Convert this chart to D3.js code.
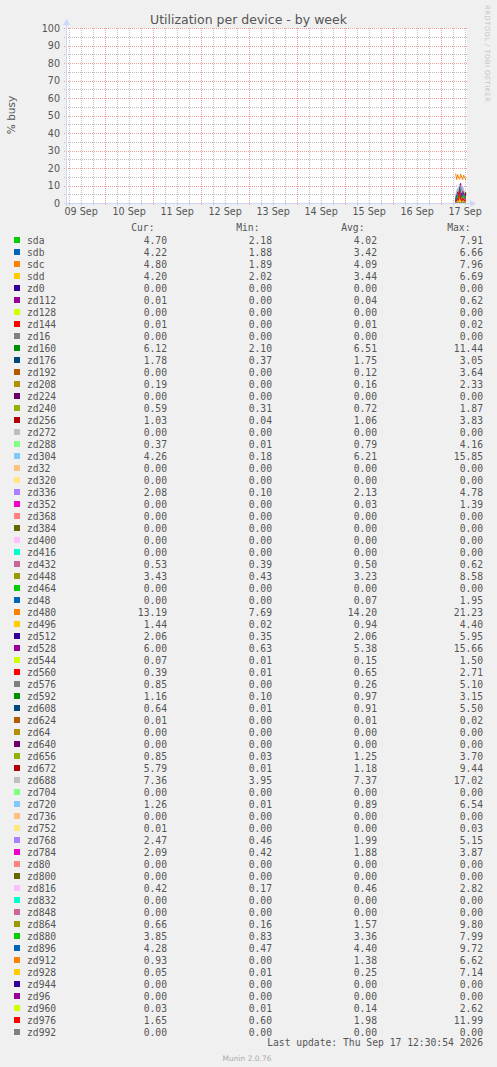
<!DOCTYPE html>
<html>
<head>
<meta charset="utf-8">
<script src="https://cdn.jsdelivr.net/npm/d3@7"></script>
<style>
  html, body { margin: 0; padding: 0; background: #f0f0f0; }
  svg { display: block; }
</style>
</head>
<body>
<svg id="graph"></svg>
<script>
// sample times (30 min steps), only the last few hours of the week have data
const times = ["2026-09-17 07:30", "2026-09-17 08:00", "2026-09-17 08:30", "2026-09-17 09:00",
  "2026-09-17 09:30", "2026-09-17 10:00", "2026-09-17 10:30", "2026-09-17 11:00",
  "2026-09-17 11:30", "2026-09-17 12:00", "2026-09-17 12:30"];

const names = ["sda", "sdb", "sdc", "sdd", "zd0", "zd112", "zd128", "zd144", "zd16", "zd160",
  "zd176", "zd192", "zd208", "zd224", "zd240", "zd256", "zd272", "zd288", "zd304", "zd32",
  "zd320", "zd336", "zd352", "zd368", "zd384", "zd400", "zd416", "zd432", "zd448", "zd464",
  "zd48", "zd480", "zd496", "zd512", "zd528", "zd544", "zd560", "zd576", "zd592", "zd608",
  "zd624", "zd64", "zd640", "zd656", "zd672", "zd688", "zd704", "zd720", "zd736", "zd752",
  "zd768", "zd784", "zd80", "zd800", "zd816", "zd832", "zd848", "zd864", "zd880", "zd896",
  "zd912", "zd928", "zd944", "zd96", "zd960", "zd976", "zd992"];

const palette = ["#00CC00", "#0066B3", "#FF8000", "#FFCC00", "#330099", "#990099", "#CCFF00",
  "#FF0000", "#808080", "#008F00", "#00487D", "#B35A00", "#B38F00", "#6B006B", "#8FB300",
  "#B30000", "#BEBEBE", "#80FF80", "#80C9FF", "#FFC080", "#FFE680", "#AA80FF", "#EE00CC",
  "#FF8080", "#666600", "#FFBFFF", "#00FFCC", "#CC6699", "#999900"];

const curVals = [4.70, 4.22, 4.80, 4.20, 0.00, 0.01, 0.00, 0.01, 0.00, 6.12,
  1.78, 0.00, 0.19, 0.00, 0.59, 1.03, 0.00, 0.37, 4.26, 0.00,
  0.00, 2.08, 0.00, 0.00, 0.00, 0.00, 0.00, 0.53, 3.43, 0.00,
  0.00, 13.19, 1.44, 2.06, 6.00, 0.07, 0.39, 0.85, 1.16, 0.64,
  0.01, 0.00, 0.00, 0.85, 5.79, 7.36, 0.00, 1.26, 0.00, 0.01,
  2.47, 2.09, 0.00, 0.00, 0.42, 0.00, 0.00, 0.66, 3.85, 4.28,
  0.93, 0.05, 0.00, 0.00, 0.03, 1.65, 0.00];
const minVals = [2.18, 1.88, 1.89, 2.02, 0.00, 0.00, 0.00, 0.00, 0.00, 2.10,
  0.37, 0.00, 0.00, 0.00, 0.31, 0.04, 0.00, 0.01, 0.18, 0.00,
  0.00, 0.10, 0.00, 0.00, 0.00, 0.00, 0.00, 0.39, 0.43, 0.00,
  0.00, 7.69, 0.02, 0.35, 0.63, 0.01, 0.01, 0.00, 0.10, 0.01,
  0.00, 0.00, 0.00, 0.03, 0.01, 3.95, 0.00, 0.01, 0.00, 0.00,
  0.46, 0.42, 0.00, 0.00, 0.17, 0.00, 0.00, 0.16, 0.83, 0.47,
  0.00, 0.01, 0.00, 0.00, 0.01, 0.60, 0.00];
const avgVals = [4.02, 3.42, 4.09, 3.44, 0.00, 0.04, 0.00, 0.01, 0.00, 6.51,
  1.75, 0.12, 0.16, 0.00, 0.72, 1.06, 0.00, 0.79, 6.21, 0.00,
  0.00, 2.13, 0.03, 0.00, 0.00, 0.00, 0.00, 0.50, 3.23, 0.00,
  0.07, 14.20, 0.94, 2.06, 5.38, 0.15, 0.65, 0.26, 0.97, 0.91,
  0.01, 0.00, 0.00, 1.25, 1.18, 7.37, 0.00, 0.89, 0.00, 0.00,
  1.99, 1.88, 0.00, 0.00, 0.46, 0.00, 0.00, 1.57, 3.36, 4.40,
  1.38, 0.25, 0.00, 0.00, 0.14, 1.98, 0.00];
const maxVals = [7.91, 6.66, 7.96, 6.69, 0.00, 0.62, 0.00, 0.02, 0.00, 11.44,
  3.05, 3.64, 2.33, 0.00, 1.87, 3.83, 0.00, 4.16, 15.85, 0.00,
  0.00, 4.78, 1.39, 0.00, 0.00, 0.00, 0.00, 0.62, 8.58, 0.00,
  1.95, 21.23, 4.40, 5.95, 15.66, 1.50, 2.71, 5.10, 3.15, 5.50,
  0.02, 0.00, 0.00, 3.70, 9.44, 17.02, 0.00, 6.54, 0.00, 0.03,
  5.15, 3.87, 0.00, 0.00, 2.82, 0.00, 0.00, 9.80, 7.99, 9.72,
  6.62, 7.14, 0.00, 0.00, 2.62, 11.99, 0.00];

// one row per device, same order as names
const values = [
  [2.18, 3.5, 4.1, 5.2, 7.91, 3.9, 3.2, 4.4, 3.6, 2.9, 4.70],
  [1.88, 2.9, 3.6, 3.1, 6.66, 3.3, 2.5, 3.9, 2.8, 3.0, 4.22],
  [1.89, 3.8, 4.5, 3.6, 7.96, 4.2, 3.1, 4.6, 3.5, 3.2, 4.80],
  [2.02, 3.1, 3.3, 2.9, 6.69, 3.4, 2.6, 3.7, 3.0, 2.8, 4.20],
  [0, 0, 0, 0, 0, 0, 0, 0, 0, 0, 0],
  [0, 0, 0.62, 0, 0, 0.02, 0, 0, 0, 0, 0.01],
  [0, 0, 0, 0, 0, 0, 0, 0, 0, 0, 0],
  [0, 0.01, 0.02, 0.01, 0, 0.01, 0.01, 0, 0.02, 0.01, 0.01],
  [0, 0, 0, 0, 0, 0, 0, 0, 0, 0, 0],
  [2.10, 5.8, 7.2, 6.4, 9.6, 6.9, 5.3, 7.8, 6.0, 5.5, 6.12],
  [0.37, 1.6, 2.1, 1.4, 3.05, 1.9, 1.2, 2.3, 1.5, 1.3, 1.78],
  [0, 0, 0, 0, 1.2, 0, 0, 0, 0, 0, 0],
  [0, 0.1, 0.2, 0, 2.33, 0.1, 0, 0.3, 0.1, 0, 0.19],
  [0, 0, 0, 0, 0, 0, 0, 0, 0, 0, 0],
  [0.31, 0.6, 0.8, 0.5, 1.87, 0.7, 0.4, 0.9, 0.6, 0.5, 0.59],
  [0.04, 0.9, 1.2, 0.7, 3.83, 1.1, 0.5, 1.4, 0.8, 0.6, 1.03],
  [0, 0, 0, 0, 0, 0, 0, 0, 0, 0, 0],
  [0.01, 0.5, 1.1, 0.4, 4.16, 0.8, 0.3, 1.2, 0.6, 0.4, 0.37],
  [0.18, 5.2, 8.4, 4.9, 10.8, 7.1, 3.6, 9.3, 5.8, 4.1, 4.26],
  [0, 0, 0, 0, 0, 0, 0, 0, 0, 0, 0],
  [0, 0, 0, 0, 0, 0, 0, 0, 0, 0, 0],
  [0.10, 1.9, 2.6, 1.7, 4.78, 2.3, 1.4, 2.9, 1.8, 1.6, 2.08],
  [0, 0, 0, 0, 0.4, 0, 0, 0, 0, 0, 0],
  [0, 0, 0, 0, 0, 0, 0, 0, 0, 0, 0],
  [0, 0, 0, 0, 0, 0, 0, 0, 0, 0, 0],
  [0, 0, 0, 0, 0, 0, 0, 0, 0, 0, 0],
  [0, 0, 0, 0, 0, 0, 0, 0, 0, 0, 0],
  [0.39, 0.48, 0.55, 0.44, 0.62, 0.51, 0.42, 0.58, 0.47, 0.45, 0.53],
  [0.43, 2.9, 3.8, 2.5, 8.58, 3.4, 2.1, 4.2, 2.8, 2.4, 3.43],
  [0, 0, 0, 0, 0, 0, 0, 0, 0, 0, 0],
  [0, 0, 0, 0, 0.8, 0, 0, 0, 0, 0, 0],
  [16.8, 13.4, 16.2, 14.1, 13.6, 16.5, 14.8, 13.3, 15.9, 14.6, 13.19],
  [0.02, 0.8, 1.1, 0.6, 2.9, 1.0, 0.5, 1.3, 0.9, 0.7, 1.44],
  [0.35, 1.8, 2.5, 1.6, 5.95, 2.2, 1.3, 2.7, 1.9, 1.5, 2.06],
  [0.63, 4.8, 6.2, 4.1, 8.5, 11.2, 3.7, 7.0, 5.1, 4.4, 6.00],
  [0.01, 0.1, 0.2, 0.05, 1.5, 0.1, 0.03, 0.2, 0.1, 0.05, 0.07],
  [0.01, 0.5, 0.9, 0.4, 2.71, 0.7, 0.3, 1.0, 0.6, 0.4, 0.39],
  [0, 0.1, 0.2, 0, 1.9, 0.1, 0, 0.3, 0.1, 0.05, 0.85],
  [0.10, 0.8, 1.2, 0.7, 3.15, 1.0, 0.6, 1.3, 0.9, 0.7, 1.16],
  [0.01, 0.7, 1.3, 0.5, 5.5, 0.9, 0.4, 1.5, 0.8, 0.5, 0.64],
  [0, 0.01, 0.02, 0.01, 0.01, 0, 0.01, 0.02, 0.01, 0, 0.01],
  [0, 0, 0, 0, 0, 0, 0, 0, 0, 0, 0],
  [0, 0, 0, 0, 0, 0, 0, 0, 0, 0, 0],
  [0.03, 1.1, 1.6, 0.9, 3.7, 1.4, 0.8, 1.8, 1.2, 0.9, 0.85],
  [0.01, 0.4, 0.9, 0.2, 3.1, 0.6, 0.1, 1.0, 0.4, 0.3, 5.79],
  [3.95, 6.8, 8.1, 6.2, 10.4, 7.6, 5.9, 8.9, 7.0, 6.4, 7.36],
  [0, 0, 0, 0, 0, 0, 0, 0, 0, 0, 0],
  [0.01, 0.7, 1.1, 0.5, 4.2, 0.9, 0.4, 1.2, 0.8, 0.6, 1.26],
  [0, 0, 0, 0, 0, 0, 0, 0, 0, 0, 0],
  [0, 0, 0, 0, 0.03, 0, 0, 0, 0, 0, 0.01],
  [0.46, 1.7, 2.3, 1.5, 5.15, 2.0, 1.3, 2.5, 1.8, 1.6, 2.47],
  [0.42, 1.7, 2.1, 1.5, 3.87, 1.9, 1.4, 2.3, 1.8, 1.6, 2.09],
  [0, 0, 0, 0, 0, 0, 0, 0, 0, 0, 0],
  [0, 0, 0, 0, 0, 0, 0, 0, 0, 0, 0],
  [0.17, 0.4, 0.5, 0.3, 2.82, 0.4, 0.3, 0.6, 0.4, 0.3, 0.42],
  [0, 0, 0, 0, 0, 0, 0, 0, 0, 0, 0],
  [0, 0, 0, 0, 0, 0, 0, 0, 0, 0, 0],
  [0.16, 1.2, 2.0, 0.9, 6.3, 1.5, 0.7, 2.2, 1.3, 0.9, 0.66],
  [0.83, 3.0, 3.7, 2.7, 7.99, 3.4, 2.4, 4.0, 3.1, 2.8, 3.85],
  [0.47, 4.1, 5.2, 3.8, 9.2, 4.6, 3.4, 5.5, 4.2, 3.7, 4.28],
  [0, 1.1, 1.9, 0.8, 6.62, 1.4, 0.6, 2.1, 1.2, 0.9, 0.93],
  [0.01, 0.1, 0.3, 0.05, 2.4, 0.2, 0.05, 0.3, 0.1, 0.05, 0.05],
  [0, 0, 0, 0, 0, 0, 0, 0, 0, 0, 0],
  [0, 0, 0, 0, 0, 0, 0, 0, 0, 0, 0],
  [0.01, 0.1, 0.2, 0.05, 1.6, 0.1, 0.03, 0.2, 0.1, 0.05, 0.03],
  [0.60, 1.8, 2.4, 1.5, 7.2, 2.0, 1.2, 2.6, 1.7, 1.4, 1.65],
  [0, 0, 0, 0, 0, 0, 0, 0, 0, 0, 0]
];

const yTicks = [0, 10, 20, 30, 40, 50, 60, 70, 80, 90, 100];
const title = "Utilization per device - by week";
const yLabel = "% busy";
const lastUpdate = "Last update: Thu Sep 17 12:30:54 2026";
const footer = "Munin 2.0.76";

function drawGraph() {
  const width = 497, height = 1067;
  const left = 67, right = 467, top = 28, bottom = 203;
  const fontColor = "#555";
  const gridColor = "#bdbdbd";
  const mgridColor = "#eb9c9c";
  const axisColor = "#CFD6F8";

  const svg = d3.select("#graph")
    .attr("width", width)
    .attr("height", height)
    .attr("viewBox", [0, 0, width, height])
    .style("font-family", "'DejaVu Sans', sans-serif");

  const parse = d3.timeParse("%Y-%m-%d %H:%M");
  const x_scale = d3.scaleTime()
    .domain([new Date(2026, 8, 9, 5, 10), new Date(2026, 8, 17, 13, 10)])
    .range([left, right]);
  const y_scale = d3.scaleLinear().domain([0, 100]).range([bottom, top]);

  // canvas
  svg.append("rect")
    .attr("x", left).attr("y", top)
    .attr("width", right - left).attr("height", bottom - top)
    .attr("fill", "#fff");

  const grid = svg.append("g").attr("shape-rendering", "crispEdges");

  // vertical grid: 6 hours minor, days major
  const hours = d3.timeHour.every(6).range(x_scale.domain()[0], x_scale.domain()[1]);
  hours.forEach(t => {
    const major = t.getHours() === 0;
    const xp = Math.round(x_scale(t)) + 0.5;
    grid.append("line")
      .attr("x1", xp).attr("x2", xp)
      .attr("y1", top).attr("y2", bottom + 3)
      .attr("stroke", major ? mgridColor : gridColor)
      .attr("stroke-dasharray", "1,1");
  });

  // horizontal grid: 5 minor, 10 major
  d3.range(5, 101, 5).forEach(v => {
    const yp = Math.round(y_scale(v)) + 0.5;
    grid.append("line")
      .attr("x1", left - 3).attr("x2", right)
      .attr("y1", yp).attr("y2", yp)
      .attr("stroke", v % 10 === 0 ? mgridColor : gridColor)
      .attr("stroke-dasharray", "1,1");
  });

  // series lines, drawn in legend order
  const line = d3.line()
    .x((d, i) => x_scale(parse(times[i])))
    .y(d => y_scale(d));
  const lines = svg.append("g");
  values.forEach((vals, i) => {
    lines.append("path")
      .attr("d", line(vals))
      .attr("fill", "none")
      .attr("stroke", palette[i % palette.length])
      .attr("stroke-width", 1);
  });

  // axes with arrows
  const ax = svg.append("g");
  ax.append("line")
    .attr("x1", left - 3).attr("x2", right + 4)
    .attr("y1", bottom + 0.5).attr("y2", bottom + 0.5)
    .attr("stroke", axisColor);
  ax.append("path")
    .attr("d", `M${right + 3},${bottom - 3} L${right + 9},${bottom + 0.5} L${right + 3},${bottom + 4} Z`)
    .attr("fill", axisColor);
  ax.append("line")
    .attr("x1", left - 0.5).attr("x2", left - 0.5)
    .attr("y1", bottom + 3).attr("y2", top - 4)
    .attr("stroke", axisColor);
  ax.append("path")
    .attr("d", `M${left - 4},${top - 3} L${left - 0.5},${top - 9} L${left + 3},${top - 3} Z`)
    .attr("fill", axisColor);

  // y tick labels
  const y_axis = d3.axisLeft(y_scale).tickValues(yTicks).tickSize(0).tickPadding(7);
  const gY = svg.append("g").attr("transform", `translate(${left},0)`).call(y_axis);
  gY.select(".domain").remove();
  gY.selectAll("text")
    .style("font-size", "9.6px")
    .style("font-family", "'DejaVu Sans', sans-serif")
    .attr("fill", fontColor);

  // x tick labels at noon of each day
  const days = d3.timeDay.range(new Date(2026, 8, 9), new Date(2026, 8, 18))
    .map(d => d3.timeHour.offset(d, 12));
  const x_axis = d3.axisBottom(x_scale).tickValues(days)
    .tickFormat(d3.timeFormat("%d %b")).tickSize(0).tickPadding(5);
  const gX = svg.append("g").attr("transform", `translate(0,${bottom})`).call(x_axis);
  gX.select(".domain").remove();
  gX.selectAll("text")
    .style("font-size", "9.6px")
    .style("font-family", "'DejaVu Sans', sans-serif")
    .attr("fill", fontColor);

  // title and labels
  svg.append("text")
    .attr("x", 248.5).attr("y", 24)
    .attr("text-anchor", "middle")
    .attr("fill", fontColor)
    .style("font-size", "12.5px")
    .text(title);

  svg.append("text")
    .attr("transform", "translate(14.5,115) rotate(-90)")
    .attr("text-anchor", "middle")
    .attr("fill", fontColor)
    .style("font-size", "10.5px")
    .text(yLabel);

  svg.append("text")
    .attr("transform", "translate(484.5,5) rotate(90)")
    .attr("text-anchor", "start")
    .attr("fill", "#c4c4c4")
    .style("font-size", "6.8px")
    .attr("textLength", 97)
    .text("RRDTOOL / TOBI OETIKER");

  // legend
  const mono = "'DejaVu Sans Mono', monospace";
  const cols = [{ h: "Cur:", v: curVals, x: 167 }, { h: "Min:", v: minVals, x: 272 },
    { h: "Avg:", v: avgVals, x: 377 }, { h: "Max:", v: maxVals, x: 483 }];
  const legend = svg.append("g")
    .style("font-family", mono)
    .style("font-size", "9.7px")
    .attr("fill", fontColor);

  cols.forEach(c => {
    legend.append("text")
      .attr("x", c.x - 12.5).attr("y", 231)
      .attr("text-anchor", "end")
      .text(c.h);
  });

  names.forEach((name, i) => {
    const yc = 240 + i * 12;
    const item = legend.append("g");
    item.append("rect")
      .attr("x", 14).attr("y", yc - 3)
      .attr("width", 6).attr("height", 6)
      .attr("fill", palette[i % palette.length]);
    item.append("text")
      .attr("x", 27).attr("y", yc + 3.5)
      .text(name);
    cols.forEach(c => {
      item.append("text")
        .attr("x", c.x).attr("y", yc + 3.5)
        .attr("text-anchor", "end")
        .text(c.v[i].toFixed(2));
    });
  });

  legend.append("text")
    .attr("x", 483).attr("y", 1045.5)
    .attr("text-anchor", "end")
    .text(lastUpdate);

  svg.append("text")
    .attr("x", 247).attr("y", 1061)
    .attr("text-anchor", "middle")
    .attr("fill", "#aaa")
    .style("font-size", "7.5px")
    .text(footer);
}

drawGraph();
</script>
</body>
</html>
